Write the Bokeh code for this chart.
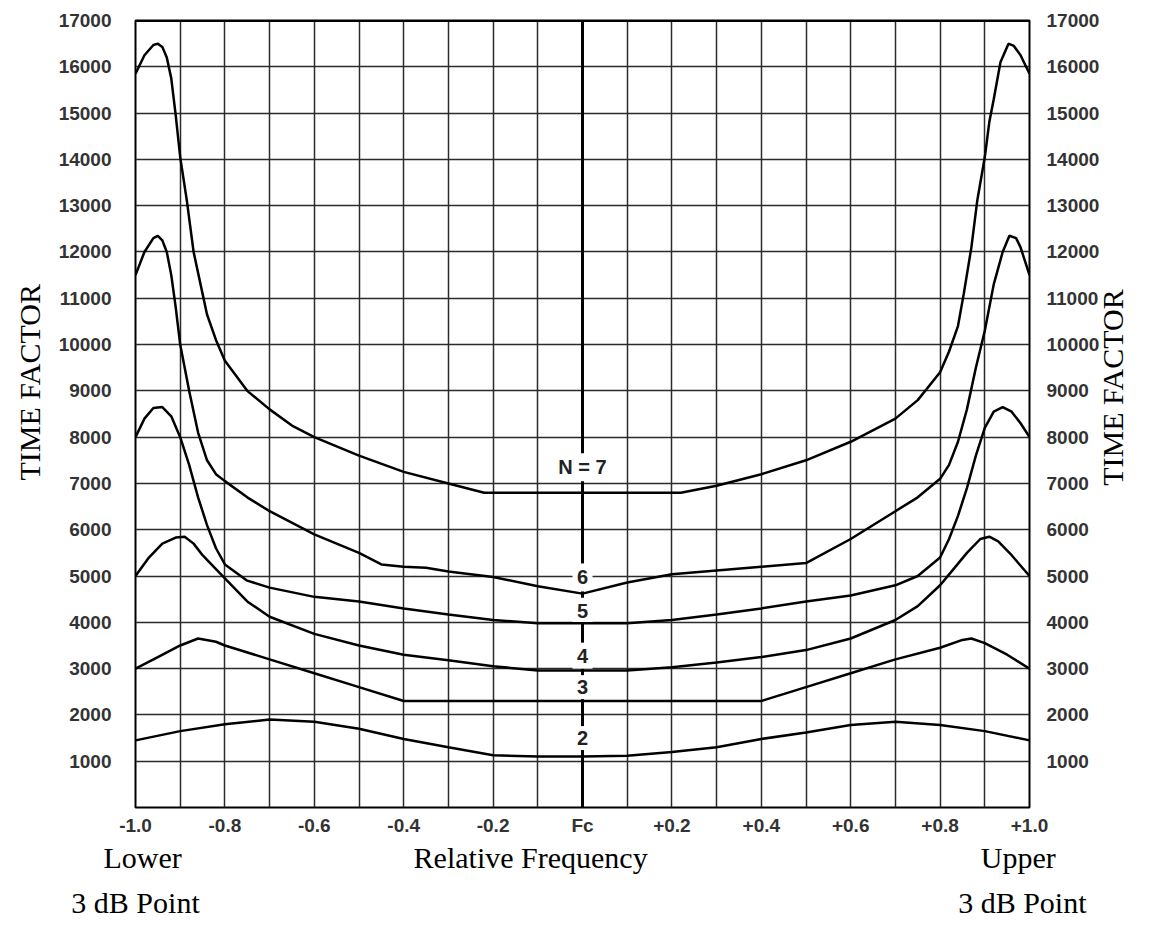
import math
from bokeh.plotting import figure
from bokeh.models import FixedTicker, Span, LinearAxis, Range1d, Title
from bokeh.embed import file_html
from bokeh.resources import INLINE

# ---------------- data ----------------
x_ticks = [-1.0, -0.8, -0.6, -0.4, -0.2, 0.0, 0.2, 0.4, 0.6, 0.8, 1.0]
x_tick_labels = ["-1.0", "-0.8", "-0.6", "-0.4", "-0.2", "Fc", "+0.2", "+0.4", "+0.6", "+0.8", "+1.0"]
y_ticks = [1000, 2000, 3000, 4000, 5000, 6000, 7000, 8000, 9000, 10000,
           11000, 12000, 13000, 14000, 15000, 16000, 17000]

n7_x = [-1.0, -0.98, -0.96, -0.95, -0.94, -0.93, -0.92, -0.91, -0.9, -0.885, -0.87, -0.85,
        -0.84, -0.82, -0.8, -0.75, -0.7, -0.65, -0.6, -0.5, -0.4, -0.3, -0.22,
        0.0, 0.22, 0.3, 0.4, 0.5, 0.6, 0.7, 0.75, 0.8, 0.82, 0.84, 0.853, 0.87, 0.883,
        0.9, 0.91, 0.92, 0.935, 0.953, 0.965, 0.98, 1.0]
n7_y = [15850, 16250, 16470, 16500, 16430, 16200, 15750, 14950, 14050, 13100, 12000, 11100,
        10650, 10100, 9650, 9000, 8600, 8250, 8000, 7600, 7250, 7000, 6800,
        6800, 6800, 6950, 7200, 7500, 7900, 8400, 8800, 9400, 9850, 10400, 11100, 12100, 13100,
        14050, 14800, 15300, 16100, 16500, 16450, 16250, 15850]

n6_x = [-1.0, -0.98, -0.96, -0.95, -0.94, -0.93, -0.92, -0.91, -0.9, -0.88, -0.86, -0.84,
        -0.82, -0.8, -0.75, -0.7, -0.6, -0.5, -0.45, -0.4, -0.35, -0.3, -0.2, -0.1, 0.0,
        0.1, 0.2, 0.3, 0.4, 0.5, 0.6, 0.7, 0.75, 0.8, 0.82, 0.84, 0.86, 0.88, 0.9, 0.92,
        0.94, 0.955, 0.97, 0.98, 1.0]
n6_y = [11500, 12000, 12300, 12350, 12250, 12000, 11500, 10800, 10000, 9000, 8100, 7500,
        7200, 7050, 6700, 6400, 5900, 5500, 5250, 5200, 5180, 5100, 4980, 4780, 4620,
        4860, 5040, 5120, 5200, 5280, 5800, 6400, 6700, 7100, 7400, 7900, 8600, 9500, 10300, 11300,
        12000, 12350, 12300, 12100, 11500]

n5_x = [-1.0, -0.98, -0.96, -0.94, -0.92, -0.9, -0.88, -0.86, -0.84, -0.82, -0.8, -0.75,
        -0.7, -0.6, -0.5, -0.4, -0.3, -0.2, -0.1, 0.0, 0.1, 0.2, 0.3, 0.4, 0.5, 0.6, 0.7,
        0.75, 0.8, 0.82, 0.84, 0.86, 0.88, 0.9, 0.92, 0.94, 0.96, 0.98, 1.0]
n5_y = [8000, 8400, 8630, 8650, 8450, 8000, 7400, 6700, 6100, 5600, 5250, 4900,
        4750, 4550, 4450, 4300, 4170, 4050, 3980, 3980, 3980, 4050, 4170, 4300, 4450, 4580, 4800,
        5000, 5400, 5800, 6300, 6900, 7600, 8200, 8550, 8650, 8550, 8300, 8000]

n4_x = [-1.0, -0.97, -0.94, -0.91, -0.89, -0.87, -0.85, -0.82, -0.8, -0.75, -0.7, -0.6,
        -0.5, -0.4, -0.3, -0.2, -0.1, 0.0, 0.1, 0.2, 0.3, 0.4, 0.5, 0.6, 0.7, 0.75, 0.8,
        0.83, 0.86, 0.89, 0.91, 0.93, 0.96, 1.0]
n4_y = [5000, 5400, 5700, 5830, 5850, 5700, 5450, 5150, 4950, 4450, 4120, 3750,
        3500, 3300, 3180, 3050, 2960, 2960, 2960, 3030, 3130, 3250, 3400, 3650, 4050, 4350, 4800,
        5150, 5500, 5800, 5850, 5750, 5450, 5000]

n3_x = [-1.0, -0.95, -0.9, -0.86, -0.82, -0.8, -0.7, -0.6, -0.5, -0.4, 0.0, 0.4, 0.5,
        0.6, 0.7, 0.8, 0.85, 0.87, 0.9, 0.95, 1.0]
n3_y = [3000, 3250, 3500, 3650, 3580, 3500, 3200, 2900, 2600, 2300, 2300, 2300, 2600,
        2900, 3200, 3450, 3620, 3650, 3550, 3300, 3000]

n2_x = [-1.0, -0.9, -0.8, -0.7, -0.6, -0.5, -0.4, -0.3, -0.2, -0.1, 0.0, 0.1, 0.2, 0.3,
        0.4, 0.5, 0.6, 0.7, 0.8, 0.9, 1.0]
n2_y = [1450, 1650, 1800, 1900, 1850, 1700, 1480, 1300, 1130, 1100, 1100, 1120, 1200, 1300,
        1480, 1620, 1780, 1850, 1780, 1650, 1450]

curve_labels = ["N = 7", "6", "5", "4", "3", "2"]
curve_label_x = [0.0, 0.0, 0.0, 0.0, 0.0, 0.0]
curve_label_y = [7350, 4970, 4250, 3280, 2600, 1500]

y_title = "TIME FACTOR"
y_title_right_pos = [6950]          # lower end of the right-hand title
x_title_row1 = ["Lower", "Relative Frequency", "Upper"]
x_title_row1_pos = [-0.984, -0.116, 0.975]
x_title_row2 = ["3 dB Point", "3 dB Point"]
x_title_row2_pos = [-0.9999, 0.984]

# ---------------- styles ----------------
label_box_w = [62, 20, 20, 20, 20, 20]
label_box_h = [28, 28, 26, 26, 24, 24]
SERIF = "Liberation Serif"
SANS = "Liberation Sans"

# ---------------- figure ----------------
p = figure(width=1149, height=935, x_range=Range1d(-1.0, 1.0), y_range=Range1d(0, 17000),
           output_backend="svg", toolbar_location=None,
           min_border_left=135, min_border_right=120, min_border_top=20, min_border_bottom=128,
           background_fill_color="white", border_fill_color="white")

p.outline_line_color = "black"
p.outline_line_width = 2

grid_x = [round(-1.0 + 0.1 * i, 1) for i in range(21)]
p.xgrid.ticker = FixedTicker(ticks=grid_x)
p.ygrid.ticker = FixedTicker(ticks=y_ticks)
for g in (p.xgrid, p.ygrid):
    g.grid_line_color = "#2b2b2b"
    g.grid_line_width = 1.5
    g.grid_line_alpha = 1.0


def plain(ax):
    ax.axis_line_color = None
    ax.major_tick_line_color = None
    ax.minor_tick_line_color = None
    ax.major_tick_out = 0
    ax.major_tick_in = 0


# numeric axes
right_axis = LinearAxis()
p.add_layout(right_axis, "right")
p.yaxis[0].ticker = FixedTicker(ticks=y_ticks)
right_axis.ticker = FixedTicker(ticks=y_ticks)
p.xaxis[0].ticker = FixedTicker(ticks=x_ticks)
p.xaxis[0].major_label_overrides = {t: l for t, l in zip(x_ticks, x_tick_labels)}
for ax in (p.xaxis[0], p.yaxis[0], right_axis):
    plain(ax)
    ax.major_label_text_font = SANS
    ax.major_label_text_font_size = "19px"
    ax.major_label_text_font_style = "bold"
    ax.major_label_text_color = "#333333"
p.yaxis[0].major_label_standoff = 24
right_axis.major_label_standoff = 17
p.xaxis[0].major_label_standoff = 7


def title_axis(ticks, texts, standoff, orientation=None):
    ax = LinearAxis(ticker=FixedTicker(ticks=ticks),
                    major_label_overrides={t: s for t, s in zip(ticks, texts)})
    plain(ax)
    ax.major_label_text_font = SERIF
    ax.major_label_text_font_size = "30px"
    ax.major_label_text_color = "black"
    ax.major_label_standoff = standoff
    if orientation is not None:
        ax.major_label_orientation = orientation
    return ax


# left title (reads bottom to top), starting 327 px above the frame bottom
p.add_layout(Title(text=y_title, align="left", offset=327, standoff=19,
                   text_font=SERIF, text_font_size="30px", text_font_style="normal",
                   text_color="black"), "left")
# right title (also reads bottom to top)
p.add_layout(title_axis(y_title_right_pos, [y_title], 10, math.pi / 2), "right")
p.add_layout(title_axis(x_title_row1_pos, x_title_row1, 2), "below")
p.add_layout(title_axis(x_title_row2_pos, x_title_row2, 9), "below")

# heavier top border and the Fc centre line
p.add_layout(Span(location=17000, dimension="width", line_color="black", line_width=3))
p.add_layout(Span(location=0.0, dimension="height", line_color="black", line_width=3, level="underlay"))

# white boxes behind curve labels (break grid and centre line)
p.rect(x=curve_label_x, y=curve_label_y, width=label_box_w, height=label_box_h,
       width_units="screen", height_units="screen", fill_color="white", line_color=None)

for xs, ys in ((n7_x, n7_y), (n6_x, n6_y), (n5_x, n5_y), (n4_x, n4_y), (n3_x, n3_y), (n2_x, n2_y)):
    p.line(xs, ys, line_color="black", line_width=2.5)

p.text(x=curve_label_x, y=curve_label_y, text=curve_labels, text_align="center",
       text_baseline="middle", text_font={"value": SANS}, text_font_style="bold",
       text_font_size="20px", text_color="#222222")

open("out.html", "w").write(file_html(p, INLINE))
